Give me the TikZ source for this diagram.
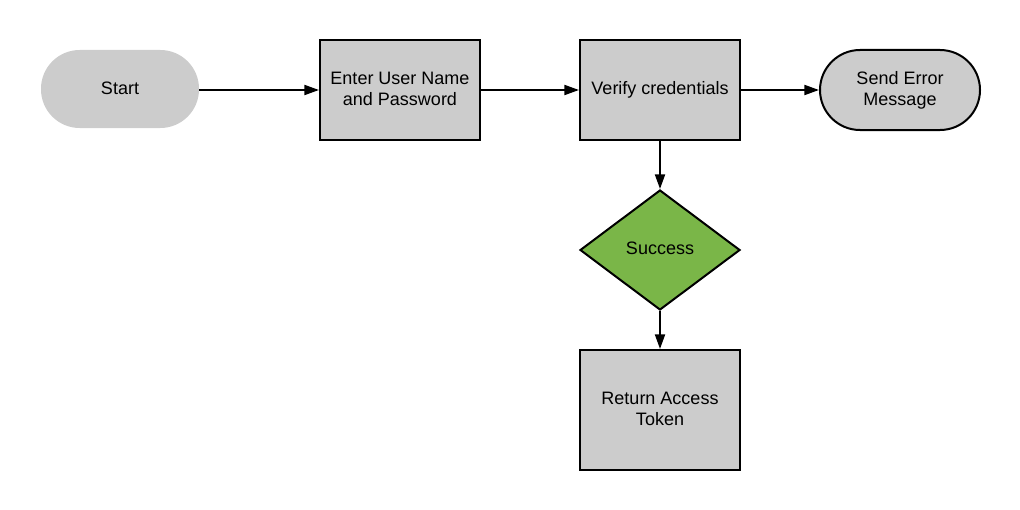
\documentclass[tikz,border=0pt]{standalone}
\usepackage{fontspec}
\setmainfont{Liberation Sans}
\usetikzlibrary{shapes.geometric,arrows.meta}
\definecolor{boxgray}{HTML}{CCCCCC}
\definecolor{leafgreen}{HTML}{7AB648}
\newcommand{\lift}{\rule[-2pt]{0pt}{0pt}}
\begin{document}
\begin{tikzpicture}[x=0.75pt, y=-0.75pt,
		every node/.style={font=\fontsize{13.5}{15.75}\selectfont, align=center, inner sep=0pt},
		stepbox/.style={draw, line width=1.5pt, fill=boxgray, minimum width=120pt},
		terminal/.style={fill=boxgray, rounded corners=29pt, minimum width=118.5pt, minimum height=58.5pt},
		decision/.style={draw, diamond, line width=1.5pt, fill=leafgreen, minimum width=120pt, minimum height=90pt},
		flow/.style={line width=1.5pt, -{Triangle[length=11pt, width=7.5pt]}}]
	\useasboundingbox (0,0) rectangle (1020,510);
	\node[terminal] (start) at (120,89) {\raisebox{1pt}{Start}};
	\node[stepbox, minimum height=75pt] (login) at (400,90) {Enter User Name\\and Password\lift};
	\node[stepbox, minimum height=75pt] (verify) at (660,90) {\raisebox{2.5pt}{Verify credentials}};
	\node[terminal, draw, line width=1.5pt, minimum width=120pt, minimum height=60pt, rounded corners=30pt] (error) at (900,90) {Send Error\\Message\lift};
	\node[decision] (success) at (660,250) {\raisebox{2.5pt}{Success}};
	\node[stepbox, minimum height=90pt] (token) at (660,410) {Return Access\\Token\lift};
	\draw[flow] (start.east |- login) -- (login);
	\draw[flow] (login) -- (verify);
	\draw[flow] (verify) -- (error);
	\draw[flow] (verify) -- (success);
	\draw[flow] (success) -- (token);
\end{tikzpicture}
\end{document}
